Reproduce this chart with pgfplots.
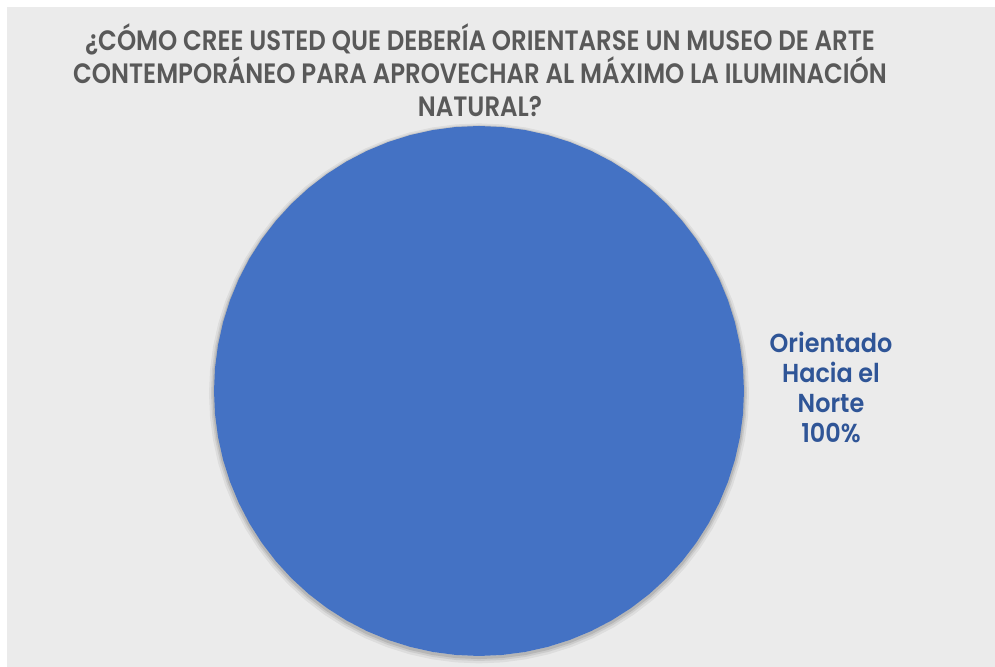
\documentclass[border=0pt]{standalone}
\usepackage{pgfplots}
\usepackage{pgfplotstable}
\pgfplotsset{compat=1.18}
\usepgfplotslibrary{polar}
\usepackage{fontspec}
\setmainfont{Poppins}
\newfontfamily\titlefont[FakeStretch=0.873]{Poppins SemiBold}
\newfontfamily\labelfont[FakeStretch=0.92]{Poppins SemiBold}
\definecolor{bgpanel}{HTML}{EBEBEB}
\definecolor{pieblue}{HTML}{4472C4}
\definecolor{lblblue}{HTML}{2F5597}
\definecolor{titlegray}{HTML}{595959}
% slice: Orientado Hacia el Norte = 100% -> 360 degrees, clockwise from 12 o'clock
\pgfplotstableread{
ang r
90 1
85 1
80 1
75 1
70 1
65 1
60 1
55 1
50 1
45 1
40 1
35 1
30 1
25 1
20 1
15 1
10 1
5 1
0 1
-5 1
-10 1
-15 1
-20 1
-25 1
-30 1
-35 1
-40 1
-45 1
-50 1
-55 1
-60 1
-65 1
-70 1
-75 1
-80 1
-85 1
-90 1
-95 1
-100 1
-105 1
-110 1
-115 1
-120 1
-125 1
-130 1
-135 1
-140 1
-145 1
-150 1
-155 1
-160 1
-165 1
-170 1
-175 1
-180 1
-185 1
-190 1
-195 1
-200 1
-205 1
-210 1
-215 1
-220 1
-225 1
-230 1
-235 1
-240 1
-245 1
-250 1
-255 1
-260 1
-265 1
-270 1
}\slice
\begin{document}
\begin{tikzpicture}[x=0.5pt,y=0.5pt]
\path (0,0) rectangle (995,667);
\fill[bgpanel] (7,0) rectangle (995,660);
\node[text=titlegray, font=\titlefont\fontsize{14}{16.3}\selectfont, align=center, anchor=north] at (480,650)
{¿CÓMO CREE USTED QUE DEBERÍA ORIENTARSE UN MUSEO DE ARTE\\CONTEMPORÁNEO PARA APROVECHAR AL MÁXIMO LA ILUMINACIÓN\\NATURAL?};
\begin{polaraxis}[
  at={(239.5pt,138pt)}, anchor=origin,
  scale only axis, width=265pt, height=265pt,
  hide axis, ymin=0, ymax=1,
  clip=false,
]
\addplot[draw=black, opacity=0.06, line width=5pt, yshift=-1.2pt, mark=none] table[x=ang,y=r] {\slice} -- cycle;
\addplot[draw=black, opacity=0.08, line width=3pt, yshift=-1pt, mark=none] table[x=ang,y=r] {\slice} -- cycle;
\addplot[draw=black, opacity=0.10, line width=1.5pt, yshift=-0.8pt, mark=none] table[x=ang,y=r] {\slice} -- cycle;
\addplot[fill=pieblue, draw=none, mark=none] table[x=ang,y=r] {\slice} -- cycle;
\end{polaraxis}
\node[text=lblblue, font=\labelfont\fontsize{13}{15}\selectfont, align=center] at (831,280)
{Orientado\\Hacia el\\Norte\\100\%};
\end{tikzpicture}
\end{document}
